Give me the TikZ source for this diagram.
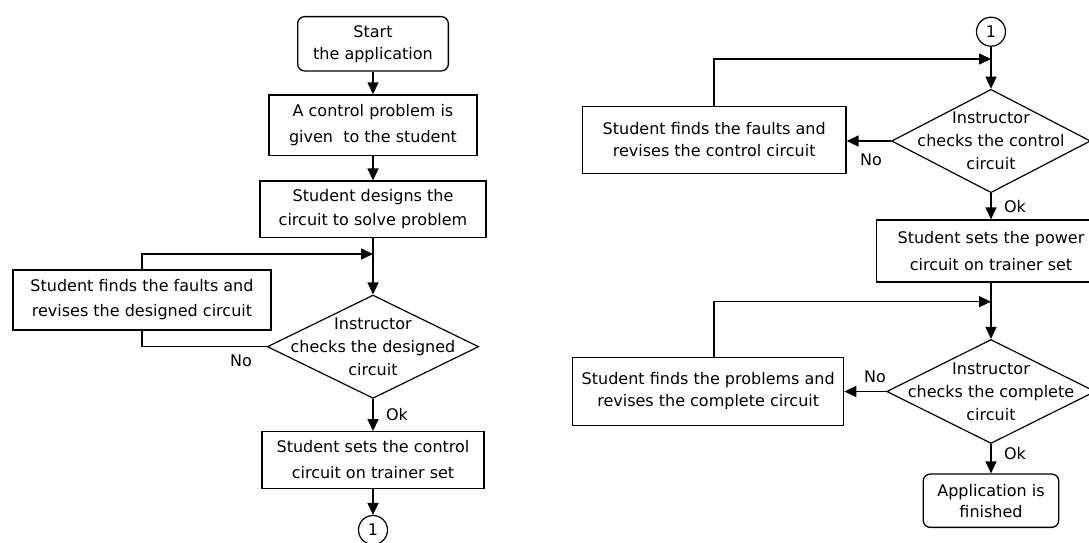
\documentclass[tikz,border=0pt]{standalone}
\usepackage{fontspec}
\setmainfont{DejaVu Sans}
\usetikzlibrary{shapes.geometric,arrows.meta}
\begin{document}
\begin{tikzpicture}[x=1pt,y=-1pt,
  every node/.style={font=\fontsize{16}{24}\selectfont, align=center, inner sep=0pt},
  box/.style={draw, line width=1.3pt},
  rbox/.style={box, rounded corners=7pt},
  dec/.style={diamond, draw, line width=1.2pt},
  dtext/.style={font=\fontsize{16}{23}\selectfont},
  conn/.style={draw, line width=1.5pt, -{Triangle[length=12pt,width=11pt]}},
  plain/.style={draw, line width=1.5pt},
  lab/.style={font=\fontsize{16}{20}\selectfont},
  conncirc/.style={circle, draw, line width=1.2pt, minimum size=29pt},
]
\useasboundingbox (0,0) rectangle (1089,543);
\clip (0,0) rectangle (1089,543);
\fill[white] (0,0) rectangle (1089,543);

% ---------- left column ----------
\node[rbox, minimum width=150.7pt, minimum height=54.3pt, font=\fontsize{16}{22}\selectfont] (s) at (373,43.8) {Start\\the application};
\node[box, minimum width=208pt, minimum height=60.7pt, font=\fontsize{16}{26}\selectfont] (b2) at (373,125.3) {A control problem is\\given\ \ to the student};
\node[box, minimum width=226pt, minimum height=56.3pt] (b3) at (373,209.2) {Student designs the\\circuit to solve problem};
\node[box, minimum width=258pt, minimum height=60pt, font=\fontsize{16}{25}\selectfont] (lb) at (142,300) {Student finds the faults and\\revises the designed circuit};
\node[dec, minimum width=211.4pt, minimum height=103.3pt,
  label={[dtext]center:{Instructor\\checks the designed\\circuit}}] (d1) at (373,346.7) {};
\node[box, minimum width=222pt, minimum height=56.6pt, font=\fontsize{16}{26}\selectfont] (b4) at (373,460) {Student sets the control\\circuit on trainer set};
\node[conncirc] (c1) at (373,530) {1};
\coordinate (j1) at (373,254);

\draw[conn] (s) -- (b2);
\draw[conn] (b2) -- (b3);
\draw[plain] (b3) -- (j1);
\draw[conn] (j1) -- (d1);
\draw[conn] (lb.north) |- (j1);
\draw[plain] (d1.west) -| (lb.south);
\draw[conn] (d1) -- (b4);
\draw[conn] (b4) -- (c1);
\node[lab] (no1) at (241,361) {No};
\node[lab] (ok1) at (397,415) {Ok};

% ---------- right column ----------
\node[conncirc] (c2) at (991,31.7) {1};
\coordinate (j2) at (991,59);
\node[dec, minimum width=199pt, minimum height=103.4pt,
  label={[dtext]center:{Instructor\\checks the control\\circuit}}] (d2) at (991,141) {};
\node[box, minimum width=263.5pt, minimum height=66.6pt, font=\fontsize{16}{22}\selectfont] (rb1) at (714.2,140) {Student finds the faults and\\revises the control circuit};
\node[box, minimum width=228.6pt, minimum height=62pt, font=\fontsize{16}{27}\selectfont] (pb) at (991,251) {Student sets the power\\circuit on trainer set};
\coordinate (j3) at (991,301.7);
\coordinate (l2) at (713.8,301.7);
\node[dec, minimum width=208.6pt, minimum height=104pt,
  label={[dtext]center:{Instructor\\checks the complete\\circuit}}] (d3) at (991,391.5) {};
\node[box, minimum width=271pt, minimum height=68.4pt, font=\fontsize{16}{22}\selectfont] (rb2) at (708.2,391.5) {Student finds the problems and\\revises the complete circuit};
\node[rbox, minimum width=135.5pt, minimum height=53.3pt, font=\fontsize{16}{21}\selectfont] (eb) at (991,500.7) {Application is\\finished};

\draw[plain] (c2) -- (j2);
\draw[conn] (j2) -- (d2);
\draw[conn] (rb1.north) |- (j2);
\draw[conn] (d2.west) -- (d2.west -| rb1.east);
\draw[conn] (d2) -- (pb);
\draw[plain] (pb) -- (j3);
\draw[conn] (j3) -- (d3);
\draw[conn] (rb2.north -| l2) -- (l2) -- (j3);
\draw[conn] (d3.west) -- (d3.west -| rb2.east);
\draw[conn] (d3) -- (eb);
\node[lab] (no2) at (871,160) {No};
\node[lab] (no3) at (875,377) {No};
\node[lab] (ok2) at (1015,207) {Ok};
\node[lab] (ok3) at (1015,454) {Ok};
\end{tikzpicture}
\end{document}
